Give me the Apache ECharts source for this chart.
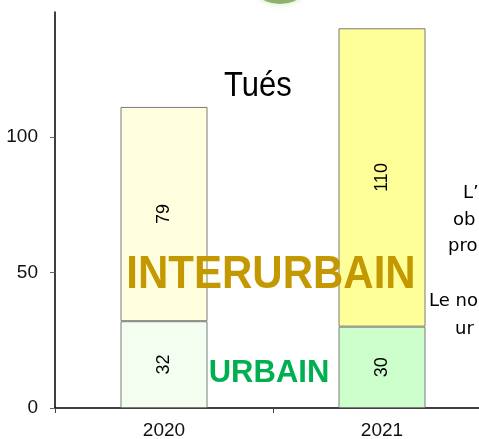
<!DOCTYPE html>
<html>
<head>
<meta charset="utf-8">
<script src="https://cdn.jsdelivr.net/npm/echarts@6/dist/echarts.min.js"></script>
<style>html,body{margin:0;padding:0;background:#fff}#c{width:479px;height:439px}</style>
</head>
<body>
<div id="c"></div>
<script>
const categories = ['2020', '2021'];
const urbain = [32, 30];
const interurbain = [79, 110];
const yTicks = [0, 50, 100];

const urbainColors = ['#F3FEF0', '#CCFFCC'];
const interColors = ['#FFFFE0', '#FFFF99'];

const chart = echarts.init(document.getElementById('c'), null, {renderer: 'canvas'});
const font = '"Liberation Sans", Arial, sans-serif';
const sideFont = '"DejaVu Sans", Lato, sans-serif';

chart.setOption({
  animation: false,
  grid: {left: 55, top: 12, width: 436, bottom: 31, containLabel: false, outerBoundsMode: 'none'},
  xAxis: {
    type: 'category',
    data: categories,
    axisLine: {lineStyle: {color: '#000', width: 1.5}},
    axisTick: {show: true, length: 5, lineStyle: {color: '#444'}},
    axisLabel: {color: '#111', fontSize: 19, fontFamily: font, margin: 13}
  },
  yAxis: {
    type: 'value',
    min: 0, max: 146, interval: 50,
    axisLine: {show: true, lineStyle: {color: '#000', width: 1.5}},
    axisTick: {show: true, length: 5, lineStyle: {color: '#666'}},
    axisLabel: {color: '#111', fontSize: 19, fontFamily: font, margin: 17, showMaxLabel: false,
      formatter: v => yTicks.includes(v) ? String(v) : ''},
    splitLine: {show: false}
  },
  series: [
    {
      name: 'Urbain', type: 'bar', stack: 't', barWidth: 87,
      data: urbain.map((v, i) => ({value: v, itemStyle: {color: urbainColors[i]}})),
      itemStyle: {borderColor: '#7a7a7a', borderWidth: 1},
      label: {show: true, position: 'inside', rotate: 90, color: '#000', fontSize: 18, fontFamily: font}
    },
    {
      name: 'Interurbain', type: 'bar', stack: 't', barWidth: 87,
      data: interurbain.map((v, i) => ({value: v, itemStyle: {color: interColors[i]}})),
      itemStyle: {borderColor: '#7a7a7a', borderWidth: 1},
      label: {show: true, position: 'inside', rotate: 90, color: '#000', fontSize: 18, fontFamily: font}
    }
  ],
  graphic: [
    {type: 'circle', shape: {cx: 280, cy: -33, r: 37}, style: {fill: '#7fa85a', opacity: 0.85, shadowBlur: 6, shadowColor: 'rgba(170,210,120,0.6)'}, z: 1},
    {type: 'text', x: 224, y: 86, scaleY: 1.12, style: {text: 'Tués', font: '31px ' + font, fill: '#000', verticalAlign: 'middle'}, z: 10},
    {type: 'text', x: 271, y: 275, scaleY: 1.1, style: {text: 'INTERURBAIN', font: 'bold 42px ' + font, fill: '#C49800', align: 'center', verticalAlign: 'middle'}, z: 10},
    {type: 'text', x: 269, y: 373, style: {text: 'URBAIN', font: 'bold 31px ' + font, fill: '#00B050', align: 'center', verticalAlign: 'middle'}, z: 10},
    {type: 'text', x: 463, y: 184, style: {text: 'L\u2019', font: '18px ' + sideFont, fill: '#000'}, z: 10},
    {type: 'text', x: 453, y: 211, style: {text: 'ob', font: '18px ' + sideFont, fill: '#000'}, z: 10},
    {type: 'text', x: 448, y: 237, style: {text: 'pro', font: '18px ' + sideFont, fill: '#000'}, z: 10},
    {type: 'text', x: 429, y: 292, style: {text: 'Le no', font: '18px ' + sideFont, fill: '#000'}, z: 10},
    {type: 'text', x: 455, y: 320, style: {text: 'ur', font: '18px ' + sideFont, fill: '#000'}, z: 10}
  ]
});
</script>
</body>
</html>
